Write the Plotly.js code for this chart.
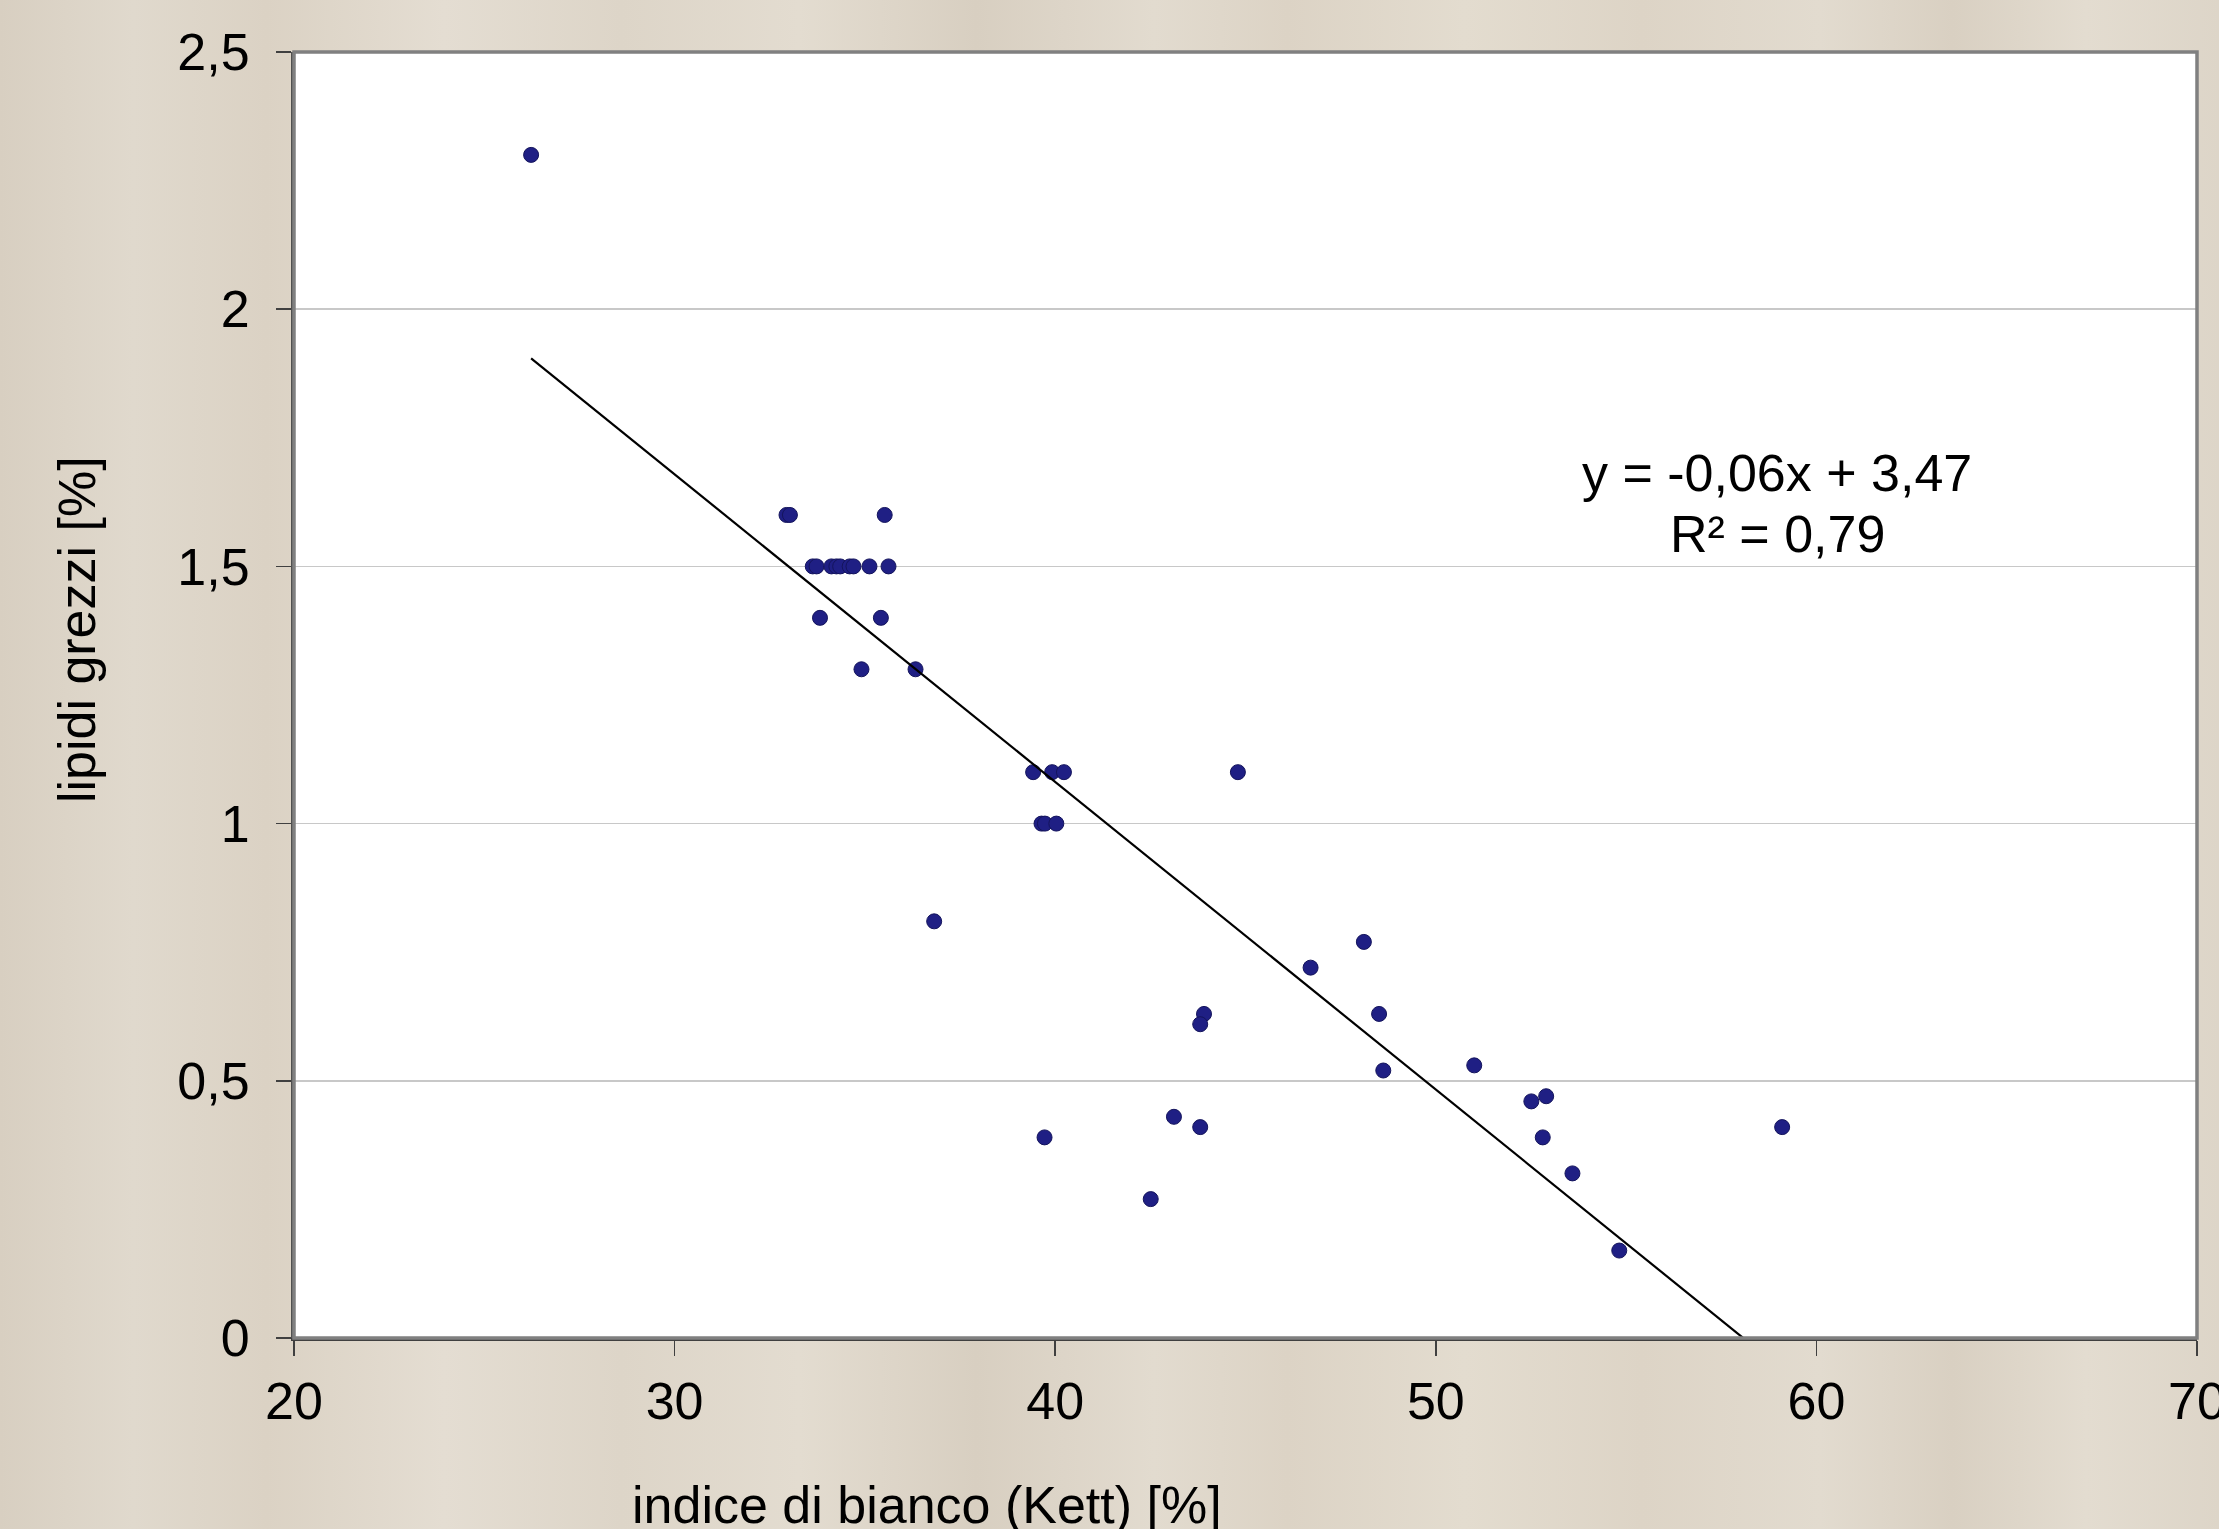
<!DOCTYPE html>
<html>
<head>
<meta charset="utf-8">
<script src="https://cdn.plot.ly/plotly-3.0.1.min.js"></script>
<style>
  html, body { margin: 0; padding: 0; overflow: hidden; }
  body {
    width: 2219px; height: 1529px;
    background: linear-gradient(to right,
      #d8cfc1 0%, #e0d9cd 6%, #dbd2c4 12%, #e4ddd2 20%, #ddd5c8 28%,
      #e3dcd0 36%, #d8cfc1 44%, #e2dbcf 52%, #dcd3c5 58%, #e3dccf 66%,
      #ddd4c6 74%, #e2dbcf 82%, #d9d0c2 88%, #e3dcd0 94%, #ddd5c8 100%);
  }
  #chart { width: 2219px; height: 1529px; }
</style>
</head>
<body>
<div id="chart"></div>
<script>
// Data
const whiteness = [26.23, 32.94, 33.03, 35.52,
  33.63, 33.73, 34.12, 34.25, 34.35, 34.6, 34.7, 35.12, 35.62,
  33.82, 35.42, 34.91, 36.33,
  39.42, 39.92, 40.23, 44.8, 39.64, 39.73, 40.03,
  36.82, 43.91, 43.81, 43.12, 43.81, 39.72, 42.51,
  46.71, 48.11, 48.51, 48.62, 51.01, 52.51, 52.9, 52.81, 53.59, 54.82, 59.1];
const lipids = [2.3, 1.6, 1.6, 1.6,
  1.5, 1.5, 1.5, 1.5, 1.5, 1.5, 1.5, 1.5, 1.5,
  1.4, 1.4, 1.3, 1.3,
  1.1, 1.1, 1.1, 1.1, 1.0, 1.0, 1.0,
  0.81, 0.63, 0.61, 0.43, 0.41, 0.39, 0.27,
  0.72, 0.77, 0.63, 0.52, 0.53, 0.46, 0.47, 0.39, 0.32, 0.17, 0.41];

// Linear trend (as shown on chart: y = -0,06x + 3,47)
const trendSlope = -0.0598;
const trendIntercept = 3.473;
const equationLine = 'y = -0,06x + 3,47';
const r2Line = 'R² = 0,79';

const yTickVals = [0, 0.5, 1, 1.5, 2, 2.5];
const yTickText = ['0', '0,5', '1', '1,5', '2', '2,5'];
const xTickVals = [20, 30, 40, 50, 60, 70];
const xTickText = ['20', '30', '40', '50', '60', '70'];

const xTitle = 'indice di bianco (Kett) [%]';
const yTitle = 'lipidi grezzi [%]';

const xMin = Math.min(...whiteness);
const xMax = Math.max(...whiteness);
const trendX = [xMin, xMax];
const trendY = trendX.map(v => trendSlope * v + trendIntercept);

const font = { family: '"Liberation Sans", Arial, sans-serif', color: '#000000', size: 52 };

const traces = [
  {
    x: whiteness, y: lipids, type: 'scatter', mode: 'markers',
    marker: { size: 15, color: '#1f1f84', line: { color: '#14145c', width: 1 } },
    hoverinfo: 'skip', showlegend: false
  },
  {
    x: trendX, y: trendY, type: 'scatter', mode: 'lines',
    line: { color: '#000000', width: 2.2 },
    hoverinfo: 'skip', showlegend: false
  }
];

const layout = {
  width: 2219, height: 1529,
  margin: { l: 294, r: 22, t: 52, b: 191, pad: 0 },
  paper_bgcolor: 'rgba(0,0,0,0)',
  plot_bgcolor: '#ffffff',
  font: font,
  showlegend: false,
  xaxis: {
    range: [20, 70], tickvals: xTickVals, ticktext: xTickText,
    showgrid: false, zeroline: false,
    showline: true, linecolor: '#404040', linewidth: 3,
    ticks: 'outside', ticklen: 15, tickwidth: 1.5, tickcolor: '#404040',
    ticklabelstandoff: 1,
    ticklabeloverflow: 'allow',
    tickfont: font
  },
  yaxis: {
    range: [0, 2.5], tickvals: yTickVals, ticktext: yTickText,
    showgrid: true, gridcolor: '#c8c8c8', gridwidth: 1.5,
    zeroline: false,
    showline: true, linecolor: '#505050', linewidth: 3,
    ticks: 'outside', ticklen: 15, tickwidth: 1.5, tickcolor: '#404040',
    ticklabelstandoff: 16,
    ticklabeloverflow: 'allow',
    tickfont: font
  },
  shapes: [
    { type: 'rect', xref: 'paper', yref: 'paper', x0: 0, x1: 1, y0: 0, y1: 1,
      line: { color: '#808080', width: 3.5 }, layer: 'above' }
  ],
  annotations: [
    { text: equationLine, xref: 'paper', yref: 'paper', x: 0.7793, y: 0.6726,
      xanchor: 'center', yanchor: 'middle', showarrow: false, font: font },
    { text: r2Line, xref: 'paper', yref: 'paper', x: 0.7793, y: 0.6252,
      xanchor: 'center', yanchor: 'middle', showarrow: false, font: font },
    { text: xTitle, xref: 'paper', yref: 'paper', x: 0.3326, y: -0.1295,
      xanchor: 'center', yanchor: 'middle', showarrow: false, font: font },
    { text: yTitle, xref: 'paper', yref: 'paper', x: -0.114, y: 0.5505, textangle: -90,
      xanchor: 'center', yanchor: 'middle', showarrow: false, font: font }
  ]
};

Plotly.newPlot('chart', traces, layout, { displayModeBar: false, staticPlot: true });
</script>
</body>
</html>
